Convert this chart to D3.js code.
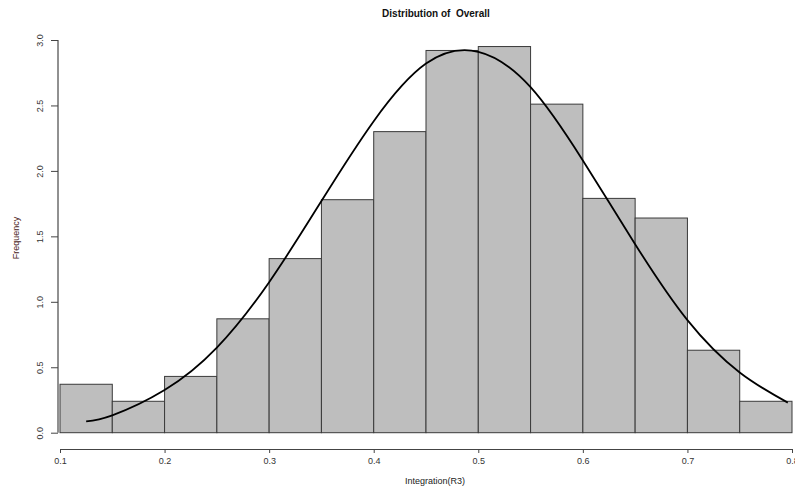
<!DOCTYPE html>
<html>
<head>
<meta charset="utf-8">
<script src="https://cdn.jsdelivr.net/npm/d3@7"></script>
<style>
  body { margin: 0; background: #fff; }
  text { font-family: "Liberation Sans", Arial, sans-serif; }
</style>
</head>
<body>
<div class="canvas"></div>
<script>
// histogram bins (density scale)
const binStarts = [0.10, 0.15, 0.20, 0.25, 0.30, 0.35, 0.40, 0.45, 0.50, 0.55, 0.60, 0.65, 0.70, 0.75];
const binWidth = 0.05;
const densities = [0.37, 0.24, 0.43, 0.87, 1.33, 1.78, 2.30, 2.92, 2.95, 2.51, 1.79, 1.64, 0.63, 0.24];

// fitted curve
const curveX = [0.125, 0.15, 0.2, 0.25, 0.3, 0.35, 0.4, 0.45, 0.5, 0.55, 0.6, 0.65, 0.7, 0.75, 0.796];
const curveY = [0.087, 0.133, 0.326, 0.65, 1.15, 1.77, 2.38, 2.82, 2.91, 2.64, 2.08, 1.44, 0.86, 0.46, 0.23];

const xTicks = [0.1, 0.2, 0.3, 0.4, 0.5, 0.6, 0.7, 0.8];
const yTicks = [0.0, 0.5, 1.0, 1.5, 2.0, 2.5, 3.0];

const dims = {width: 795, height: 488};

const svg = d3.select('.canvas')
    .append('svg')
    .attr('width', dims.width)
    .attr('height', dims.height);

const x = d3.scaleLinear().domain([0.1, 0.8]).range([60, 792]);
const y = d3.scaleLinear().domain([0, 3]).range([432.7, 40]);

// bars
svg.append('g')
    .selectAll('rect')
    .data(densities)
    .enter()
    .append('rect')
    .attr('x', (d, i) => x(binStarts[i]))
    .attr('y', d => y(d))
    .attr('width', (d, i) => x(binStarts[i] + binWidth) - x(binStarts[i]))
    .attr('height', d => y(0) - y(d))
    .attr('fill', '#bebebe')
    .attr('stroke', '#3a3a3a')
    .attr('stroke-width', 1);

// curve
const line = d3.line()
    .x(d => x(d[0]))
    .y(d => y(d[1]))
    .curve(d3.curveNatural);

svg.append('path')
    .datum(curveX.map((v, i) => [v, curveY[i]]))
    .attr('d', line)
    .attr('fill', 'none')
    .attr('stroke', '#000')
    .attr('stroke-width', 1.8);

// x axis
const xAxis = d3.axisBottom(x)
    .tickValues(xTicks)
    .tickSize(4)
    .tickFormat(d3.format('.1f'));

const xg = svg.append('g')
    .attr('transform', 'translate(0, 449)')
    .call(xAxis);
xg.select('.domain').attr('stroke', '#444');
xg.selectAll('.tick line').attr('stroke', '#444');
xg.selectAll('.tick text')
    .attr('y', 9)
    .attr('font-size', 9)
    .attr('fill', '#333')
    .style('font-family', '"Liberation Sans", Arial, sans-serif');

// y axis
const yAxis = d3.axisLeft(y)
    .tickValues(yTicks)
    .tickSize(7)
    .tickFormat(d3.format('.1f'));

const yg = svg.append('g')
    .attr('transform', 'translate(58, 0)')
    .call(yAxis);
yg.select('.domain').attr('stroke', '#222').attr('d', `M0,${y(0)}V${y(3)}`);
yg.selectAll('.tick line').attr('stroke', '#444');
yg.selectAll('.tick text')
    .attr('x', 0)
    .attr('y', 0)
    .attr('dy', 0)
    .attr('text-anchor', 'middle')
    .attr('transform', 'translate(-15, 0) rotate(-90)')
    .attr('font-size', 9)
    .attr('fill', '#333')
    .style('font-family', '"Liberation Sans Narrow", "Liberation Sans", Arial, sans-serif');

// title
svg.append('text')
    .attr('x', 436)
    .attr('y', 17)
    .attr('text-anchor', 'middle')
    .attr('font-size', 10)
    .attr('font-weight', 'bold')
    .attr('fill', '#111')
    .style('white-space', 'pre')
    .text('Distribution of  Overall');

// axis labels
svg.append('text')
    .attr('x', 435)
    .attr('y', 484)
    .attr('text-anchor', 'middle')
    .attr('font-size', 9)
    .attr('fill', '#222')
    .text('Integration(R3)');

svg.append('text')
    .attr('transform', 'translate(19, 238) rotate(-90)')
    .attr('text-anchor', 'middle')
    .attr('font-size', 9)
    .attr('fill', '#4a1c1c')
    .style('font-family', '"Liberation Sans Narrow", "Liberation Sans", Arial, sans-serif')
    .text('Frequency');
</script>
</body>
</html>
